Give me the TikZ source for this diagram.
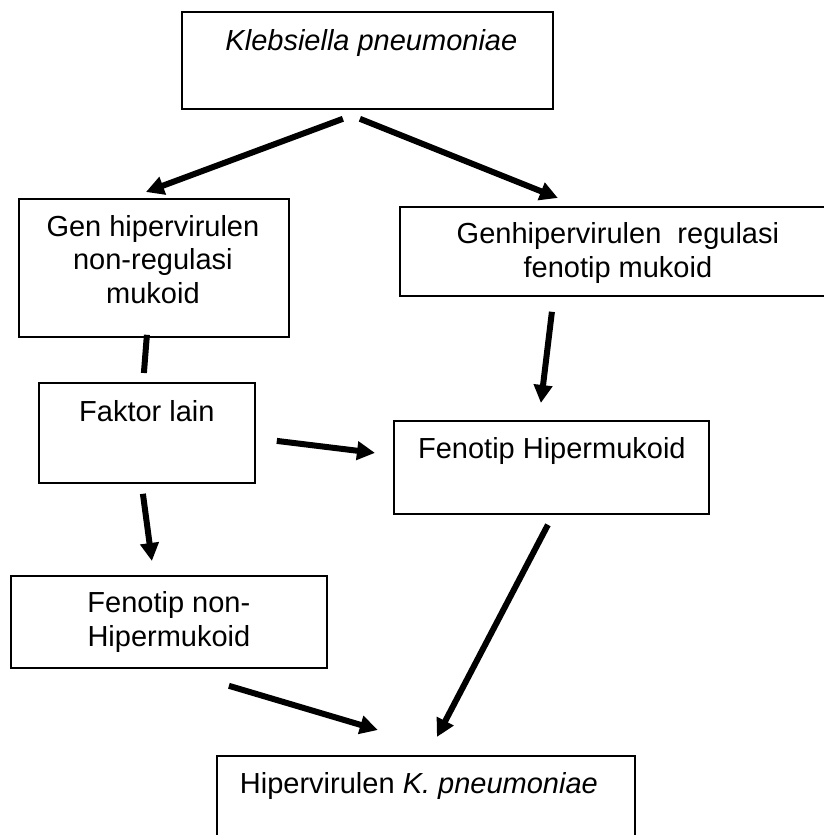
\documentclass[tikz,border=0pt]{standalone}
\usepackage{fontspec}
\setmainfont{Liberation Sans}
\usetikzlibrary{arrows.meta,positioning}

\begin{document}
\begin{tikzpicture}[x=1pt,y=-1pt,
    box/.style={draw, line width=1.8pt, inner sep=0pt, anchor=north west},
    txt/.style={anchor=base, align=center, inner sep=0pt, font=\fontsize{29}{33.5}\selectfont},
    arr/.style={line width=6pt, -{Triangle[length=18pt,width=18pt]}},
    link/.style={line width=6pt}]
    \useasboundingbox (0,0) rectangle (824,835);
    \clip (0,0) rectangle (824,835);

    % Boxes
    \node[box, minimum width=371pt, minimum height=97pt] (kp) at (181,11) {};
    \node[box, minimum width=270pt, minimum height=138pt] (gen) at (18,198) {};
    \node[box, minimum width=436pt, minimum height=89pt] (genreg) at (399,206) {};
    \node[box, minimum width=216pt, minimum height=100pt] (faktor) at (38,382) {};
    \node[box, minimum width=315pt, minimum height=93pt] (hiper) at (393,420) {};
    \node[box, minimum width=316pt, minimum height=92pt] (nonhiper) at (10,575) {};
    \node[box, minimum width=418pt, minimum height=93pt] (hkp) at (216,755) {};

    % Texts (base = last line)
    \node[txt] (kpt) at ([shift={(4,39)}]kp.north) {\itshape Klebsiella pneumoniae};
    \node[txt] (gent) at ([shift={(-1,105)}]gen.north) {Gen hipervirulen\\non-regulasi\\mukoid};
    \node[txt] (genregt) at ([shift={(0,71)}]genreg.north) {Genhipervirulen\ \ regulasi\\fenotip mukoid};
    \node[txt] (faktort) at ([shift={(0,39)}]faktor.north) {Faktor lain};
    \node[txt] (hipert) at ([shift={(0.5,38)}]hiper.north) {Fenotip Hipermukoid};
    \node[txt] (nonhipert) at ([shift={(0,71)}]nonhiper.north) {Fenotip non-\\Hipermukoid};
    \node[txt] (hkpt) at ([shift={(-7,38)}]hkp.north) {Hipervirulen \textit{K. pneumoniae}};

    % Arrows
    \draw[arr] ([shift={(-24.5,9)}]kp.south) -- ([shift={(-8,-6)}]gen.north);
    \draw[arr] ([shift={(-7.5,9)}]kp.south) -- ([shift={(-60,-8)}]genreg.north);
    \draw[link] ([shift={(-7,-3)}]gen.south) -- ([shift={(-3,-9)}]faktor.north);
    \draw[arr] ([shift={(-66,15)}]genreg.south) -- ([shift={(-10.5,-17)}]hiper.north);
    \draw[arr] ([shift={(21,8)}]faktor.east) -- ([shift={(-18,-14.5)}]hiper.west);
    \draw[arr] ([shift={(-4,10)}]faktor.south) -- ([shift={(-17,-14)}]nonhiper.north);
    \draw[arr] ([shift={(60,17)}]nonhiper.south) -- ([shift={(-48,-25)}]hkp.north);
    \draw[arr] ([shift={(-3.5,10)}]hiper.south) -- ([shift={(11,-18)}]hkp.north);
\end{tikzpicture}
\end{document}
